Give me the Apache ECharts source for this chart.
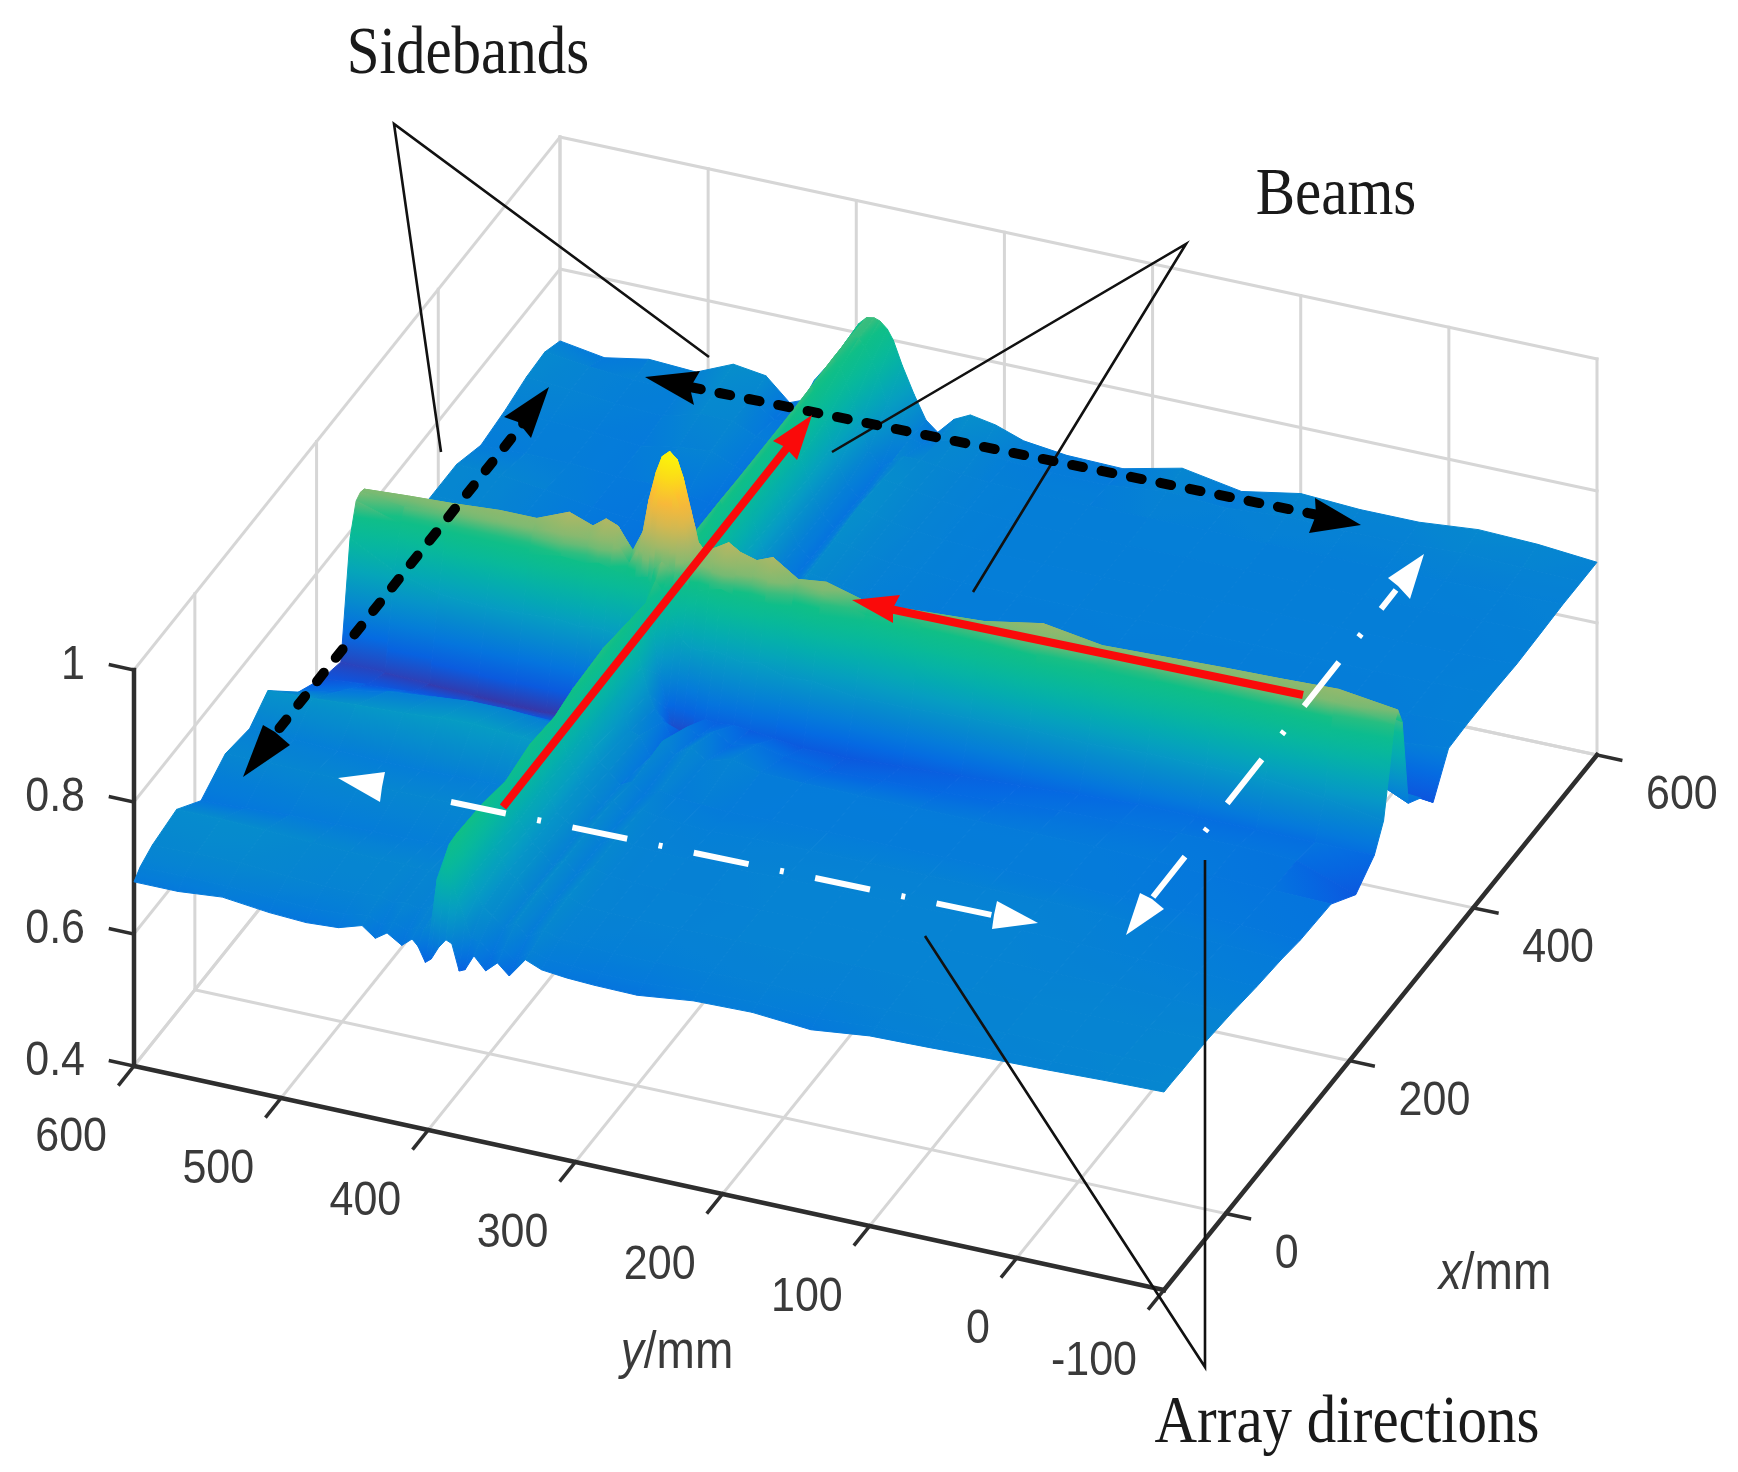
<!DOCTYPE html>
<html>
<head>
<meta charset="utf-8">
<title>Array beams</title>
<style>
  html, body { margin: 0; background: #fff; }
  #main { width: 1738px; height: 1472px; }
</style>
<script src="https://cdn.jsdelivr.net/npm/echarts@6/dist/echarts.min.js"></script>
</head>
<body>
<div id="main"></div>
<script>
// values
const xGrid = [-100,-90,-70,-30,10,50,90,120,170,210,240,255,265,272,278,285,295,315,335,360,390,430,470,510,545,575,600];
const yGrid = [-100,-60,-20,20,60,100,140,180,220,258,287,306,323,334,345,353,361,369,375,379,384,388,393,398,402,407,411,418,428,436,445,461,483,508,540,570,600];
// one row per xGrid value, one column per yGrid value
const surfaceZ = [
  [.700,.698,.695,.693,.690,.688,.678,.685,.683,.673,.674,.676,.680,.690,.660,.676,.660,.679,.655,.651,.690,.694,.680,.660,.653,.675,.684,.671,.685,.673,.688,.677,.674,.677,.685,.679,.679],
  [.700,.698,.696,.694,.692,.690,.684,.688,.686,.680,.680,.682,.684,.692,.672,.686,.672,.690,.690,.716,.745,.770,.795,.770,.700,.690,.692,.682,.690,.682,.692,.686,.684,.686,.690,.690,.690],
  [.699,.698,.697,.696,.695,.693,.690,.692,.690,.688,.688,.690,.692,.700,.684,.702,.690,.705,.715,.730,.755,.785,.818,.800,.720,.695,.697,.692,.696,.692,.698,.695,.695,.698,.702,.702,.700],
  [.698,.697,.697,.696,.696,.695,.694,.695,.694,.693,.693,.694,.696,.705,.688,.708,.692,.715,.722,.740,.755,.780,.815,.790,.715,.697,.698,.697,.699,.698,.700,.700,.700,.702,.706,.708,.708],
  [.693,.693,.694,.694,.695,.695,.695,.695,.694,.692,.692,.693,.695,.702,.688,.706,.692,.712,.720,.735,.750,.775,.805,.780,.710,.692,.690,.688,.688,.687,.687,.686,.685,.684,.682,.678,.675],
  [.686,.688,.690,.692,.694,.695,.695,.695,.695,.693,.692,.693,.695,.702,.688,.706,.694,.712,.720,.738,.755,.785,.815,.790,.715,.698,.698,.698,.699,.699,.700,.700,.700,.700,.700,.700,.700],
  [.681,.684,.687,.690,.692,.692,.692,.692,.691,.690,.688,.690,.692,.698,.684,.702,.690,.708,.718,.735,.752,.780,.810,.785,.712,.695,.693,.690,.690,.688,.688,.687,.686,.686,.688,.690,.692],
  [.675,.678,.680,.682,.683,.684,.684,.684,.684,.683,.682,.684,.686,.692,.680,.696,.688,.704,.716,.735,.755,.785,.818,.795,.735,.725,.725,.725,.728,.728,.730,.732,.730,.725,.722,.718,.715],
  [.672,.674,.676,.680,.682,.682,.682,.682,.682,.682,.684,.695,.685,.700,.682,.700,.672,.700,.705,.725,.755,.795,.822,.800,.720,.690,.690,.690,.692,.692,.695,.697,.697,.692,.685,.672,.655],
  [.640,.672,.675,.675,.672,.670,.665,.660,.658,.655,.662,.672,.662,.678,.665,.675,.642,.675,.692,.712,.750,.790,.815,.790,.690,.655,.645,.645,.642,.642,.640,.640,.640,.640,.638,.635,.630],
  [.665,.665,.665,.665,.665,.660,.655,.650,.645,.640,.640,.645,.650,.652,.650,.652,.640,.625,.625,.655,.705,.760,.810,.770,.660,.625,.615,.612,.612,.612,.612,.610,.610,.612,.615,.618,.620],
  [.700,.715,.725,.725,.725,.720,.722,.720,.715,.715,.725,.722,.735,.730,.735,.738,.735,.735,.745,.760,.790,.810,.825,.800,.745,.735,.732,.730,.735,.735,.732,.735,.732,.730,.735,.755,.790],
  [.770,.800,.805,.800,.800,.800,.805,.795,.790,.785,.805,.800,.815,.810,.815,.820,.815,.810,.812,.820,.830,.835,.842,.830,.815,.812,.810,.810,.815,.820,.815,.818,.810,.808,.810,.815,.835],
  [.825,.842,.838,.836,.832,.830,.843,.828,.822,.818,.838,.832,.855,.845,.852,.862,.852,.842,.850,.885,.920,.945,.955,.945,.920,.885,.850,.820,.852,.860,.845,.857,.838,.838,.835,.832,.840],
  [.841,.853,.850,.848,.845,.842,.856,.840,.835,.830,.848,.843,.868,.858,.865,.876,.865,.855,.870,.915,.960,.985,.995,.985,.960,.915,.865,.832,.865,.872,.857,.870,.850,.850,.845,.842,.838],
  [.815,.835,.832,.830,.826,.822,.838,.822,.815,.812,.830,.825,.850,.840,.848,.858,.848,.838,.842,.880,.915,.940,.950,.940,.915,.880,.845,.815,.845,.855,.840,.852,.832,.832,.828,.825,.827],
  [.680,.720,.745,.750,.750,.745,.750,.750,.750,.750,.760,.760,.770,.770,.775,.775,.775,.775,.785,.800,.825,.845,.855,.840,.810,.785,.770,.765,.770,.770,.770,.770,.770,.775,.780,.790,.800],
  [.665,.672,.680,.685,.685,.680,.685,.680,.680,.680,.690,.690,.695,.695,.700,.700,.700,.705,.730,.760,.795,.815,.825,.800,.760,.720,.700,.695,.695,.695,.695,.695,.695,.700,.710,.730,.750],
  [.635,.645,.655,.660,.660,.660,.665,.660,.660,.660,.665,.665,.670,.670,.675,.675,.675,.690,.725,.755,.790,.815,.825,.795,.740,.690,.670,.665,.665,.660,.660,.660,.660,.665,.680,.695,.710],
  [.688,.680,.675,.675,.675,.675,.680,.675,.675,.675,.680,.682,.685,.690,.695,.682,.674,.695,.720,.745,.775,.800,.825,.795,.730,.685,.670,.665,.665,.665,.665,.665,.668,.672,.685,.698,.700],
  [.690,.686,.684,.684,.684,.684,.685,.684,.684,.684,.688,.690,.695,.700,.705,.686,.674,.692,.718,.742,.772,.798,.824,.792,.728,.685,.672,.668,.668,.668,.668,.668,.672,.678,.690,.698,.700],
  [.690,.687,.686,.686,.686,.686,.687,.686,.686,.686,.690,.692,.698,.704,.708,.686,.672,.690,.715,.740,.770,.797,.824,.792,.728,.685,.672,.668,.668,.668,.670,.672,.675,.680,.690,.698,.700],
  [.688,.686,.686,.686,.686,.686,.687,.686,.686,.686,.690,.694,.700,.706,.712,.688,.672,.690,.712,.738,.770,.797,.824,.795,.730,.688,.672,.668,.668,.668,.670,.675,.680,.680,.685,.685,.683],
  [.690,.688,.687,.687,.687,.687,.688,.687,.687,.687,.690,.694,.700,.705,.708,.688,.672,.690,.715,.742,.775,.800,.826,.798,.735,.692,.675,.670,.670,.672,.680,.695,.690,.680,.685,.688,.690],
  [.692,.690,.689,.688,.688,.688,.689,.688,.688,.688,.690,.694,.698,.702,.702,.690,.678,.700,.735,.765,.795,.815,.828,.805,.760,.720,.700,.685,.680,.680,.685,.700,.700,.685,.688,.695,.700],
  [.692,.694,.696,.692,.692,.694,.688,.694,.684,.684,.688,.696,.702,.696,.685,.692,.705,.735,.775,.795,.815,.825,.828,.812,.785,.755,.735,.715,.695,.675,.675,.700,.705,.688,.690,.695,.703],
  [.692,.700,.703,.695,.695,.700,.684,.700,.680,.682,.690,.705,.712,.700,.675,.690,.725,.765,.800,.815,.825,.828,.826,.815,.800,.775,.760,.745,.715,.680,.672,.705,.712,.688,.692,.680,.691]
];
const xTicks = [0, 200, 400, 600];
const yTicks = [-100, 0, 100, 200, 300, 400, 500, 600];
const zTicks = [0.4, 0.6, 0.8, 1];
const xLabels = ['0', '200', '400', '600'];
const yLabels = ['-100', '0', '100', '200', '300', '400', '500', '600'];
const zLabels = ['0.4', '0.6', '0.8', '1'];

// colour ramp, z value -> colour
const rampZ = [.60, .615, .635, .66, .68, .70, .73, .76, .79, .82, .84, .87, .90, .93, .96, .985, 1];
const rampColor = ['#45278f', '#2f3fb5', '#0d55dd', '#056ae2', '#057adb', '#0686d0', '#069bc4', '#04acb0', '#08b99a', '#10bf85', '#7dba72', '#aeb764', '#dfb84a', '#fdb935', '#fbdc18', '#fbf00c', '#f8f50c'];

// where the floor corners of the box land on the page
const X0 = -100, X1 = 600, Y0 = -100, Y1 = 600, Z0 = 0.4, Z1 = 1;
const cornerA = [1164, 1290]; // x min, y min
const cornerB = [1597, 755];  // x max, y min
const cornerC = [134, 1066];  // x min, y max
const cornerD = [560, 533];   // x max, y max
const zScale = 660;

function project(x, y, z) {
  const s = (x - X0) / (X1 - X0), t = (y - Y0) / (Y1 - Y0);
  const px = (1 - s) * (1 - t) * cornerA[0] + s * (1 - t) * cornerB[0] + (1 - s) * t * cornerC[0] + s * t * cornerD[0];
  const py = (1 - s) * (1 - t) * cornerA[1] + s * (1 - t) * cornerB[1] + (1 - s) * t * cornerC[1] + s * t * cornerD[1];
  return [px, py - (z - Z0) * zScale];
}

function hex(c) {
  return [parseInt(c.slice(1, 3), 16), parseInt(c.slice(3, 5), 16), parseInt(c.slice(5, 7), 16)];
}
const rampRgb = rampColor.map(hex);
function colorOf(z) {
  if (z <= rampZ[0]) return rampColor[0];
  for (let k = 1; k < rampZ.length; k++) {
    if (z <= rampZ[k]) {
      const f = (z - rampZ[k - 1]) / (rampZ[k] - rampZ[k - 1]);
      const a = rampRgb[k - 1], b = rampRgb[k];
      return 'rgb(' + [0, 1, 2].map(n => Math.round(a[n] + (b[n] - a[n]) * f)).join(',') + ')';
    }
  }
  return rampColor[rampColor.length - 1];
}

// quads back to front, so nearer ones paint over farther ones
const quads = [];
for (let i = xGrid.length - 2; i >= 0; i--) {
  for (let j = yGrid.length - 2; j >= 0; j--) {
    quads.push([i, j]);
  }
}

function renderQuad(params, api) {
  const i = api.value(0), j = api.value(1);
  const idx = [[i, j], [i + 1, j], [i + 1, j + 1], [i, j + 1]];
  const zs = idx.map(p => surfaceZ[p[0]][p[1]]);
  const pts = idx.map((p, k) => api.coord(project(xGrid[p[0]], yGrid[p[1]], zs[k])));
  // fit z = a*px + b*py + c to get the direction the colour changes in
  let mx = 0, my = 0, mz = 0;
  pts.forEach((p, k) => { mx += p[0] / 4; my += p[1] / 4; mz += zs[k] / 4; });
  let sxx = 0, sxy = 0, syy = 0, sxz = 0, syz = 0;
  pts.forEach((p, k) => {
    const dx = p[0] - mx, dy = p[1] - my, dz = zs[k] - mz;
    sxx += dx * dx; sxy += dx * dy; syy += dy * dy; sxz += dx * dz; syz += dy * dz;
  });
  const det = sxx * syy - sxy * sxy;
  let fill;
  const zMin = Math.min.apply(null, zs), zMax = Math.max.apply(null, zs);
  const a = det > 1e-6 ? (syy * sxz - sxy * syz) / det : 0;
  const b = det > 1e-6 ? (sxx * syz - sxy * sxz) / det : 0;
  const len = Math.sqrt(a * a + b * b);
  if (len < 1e-9 || zMax - zMin < 0.002) {
    fill = colorOf(mz);
  } else {
    const ux = a / len, uy = b / len;
    const proj = pts.map(p => (p[0] - mx) * ux + (p[1] - my) * uy);
    const lo = Math.min.apply(null, proj), hi = Math.max.apply(null, proj);
    const stops = [0, 0.25, 0.5, 0.75, 1].map(t => ({ offset: t, color: colorOf(zMin + (zMax - zMin) * t) }));
    fill = new echarts.graphic.LinearGradient(mx + ux * lo, my + uy * lo, mx + ux * hi, my + uy * hi, stops, true);
  }
  return {
    type: 'polygon',
    shape: { points: pts },
    style: { fill: fill, stroke: fill, lineWidth: 1 },
    silent: true
  };
}

// box: walls, floor, axes and ticks as 3D segments
const gridLine = { stroke: '#d6d6d6', lineWidth: 3 };
const axisLine = { stroke: '#2e2e2e', lineWidth: 4.5 };
const tickLine = { stroke: '#2e2e2e', lineWidth: 3.5 };
const segments = [];
function seg(a, b, style) { segments.push({ a: a, b: b, style: style }); }
xTicks.forEach(x => {
  seg([x, Y0, Z0], [x, Y1, Z0], gridLine);
  seg([x, Y1, Z0], [x, Y1, Z1], gridLine);
});
yTicks.forEach(y => {
  seg([X0, y, Z0], [X1, y, Z0], gridLine);
  seg([X1, y, Z0], [X1, y, Z1], gridLine);
});
zTicks.forEach(z => {
  seg([X0, Y1, z], [X1, Y1, z], gridLine);
  seg([X1, Y1, z], [X1, Y0, z], gridLine);
});
seg([X0, Y1, Z0], [X0, Y1, Z1], axisLine);
seg([X0, Y1, Z0], [X0, Y0, Z0], axisLine);
seg([X0, Y0, Z0], [X1, Y0, Z0], axisLine);
zTicks.forEach(z => seg([X0, Y1, z], [X0, Y1 + 16, z], tickLine));
yTicks.forEach(y => seg([X0, y, Z0], [X0 - 24, y, Z0], tickLine));
xTicks.forEach(x => seg([x, Y0, Z0], [x, Y0 - 16, Z0], tickLine));

function renderSegment(params, api) {
  const s = segments[params.dataIndex];
  const p = api.coord(project(s.a[0], s.a[1], s.a[2]));
  const q = api.coord(project(s.b[0], s.b[1], s.b[2]));
  return {
    type: 'line',
    shape: { x1: p[0], y1: p[1], x2: q[0], y2: q[1] },
    style: Object.assign({ lineCap: 'square' }, s.style),
    silent: true
  };
}

// tick labels hang off the projected tick position
const tickFont = '43px "Liberation Sans", Arial, sans-serif';
const labelItems = [];
xTicks.forEach((v, k) => labelItems.push({ at: [v, Y0, Z0], dx: 49, dy: 41, align: 'left', text: xLabels[k] }));
yTicks.forEach((v, k) => labelItems.push({ at: [X0, v, Z0], dx: -27, dy: 72, align: 'right', text: yLabels[k] }));
zTicks.forEach((v, k) => labelItems.push({ at: [X0, Y1, v], dx: -49, dy: -4, align: 'right', text: zLabels[k] }));

function renderLabel(params, api) {
  const l = labelItems[params.dataIndex];
  const p = api.coord(project(l.at[0], l.at[1], l.at[2]));
  return {
    type: 'text',
    x: p[0] + l.dx,
    y: p[1] + l.dy,
    scaleY: 1.12,
    style: { text: l.text, x: 0, y: 0, align: l.align, verticalAlign: 'middle', font: tickFont, fill: '#3a3a3a' },
    silent: true
  };
}

// annotations drawn over the plot, in page pixels
const serif = '59px "Liberation Serif", "Times New Roman", serif';
function noteText(text, x, y) {
  return { type: 'text', x: x, y: y, scaleY: 1.14, style: { text: text, x: 0, y: 0, align: 'center', verticalAlign: 'middle', font: serif, fill: '#1a1a1a' }, z: 20 };
}
function path(points, style) {
  return { type: 'polyline', shape: { points: points }, style: Object.assign({ fill: null }, style), z: 20 };
}
function head(points, color) {
  return { type: 'polygon', shape: { points: points }, style: { fill: color }, z: 21 };
}
const leader = { stroke: '#111', lineWidth: 2.6 };
const blackDots = { stroke: '#000', lineWidth: 10, lineDash: [11, 19], lineCap: 'round' };
const whiteDash = { stroke: '#fff', lineWidth: 6, lineDash: [56, 32, 4, 32], lineCap: 'butt' };
const redBar = { stroke: '#fa0a0a', lineWidth: 8 };

const annotations = [
  noteText('Sidebands', 468, 55),
  noteText('Beams', 1336, 196),
  noteText('Array directions', 1347, 1424),
  path([[709, 357], [394, 124], [441, 452]], leader),
  path([[832, 452], [1186, 244], [973, 592]], leader),
  path([[925, 936], [1205, 1367], [1205, 860]], leader),
  // red beam arrows
  path([[503, 807], [790, 444]], redBar),
  head([[812, 415], [773, 441], [785, 447], [797, 460]], '#fa0a0a'),
  path([[1303, 695], [885, 608]], redBar),
  head([[852, 600], [900, 595], [893, 608], [893, 623]], '#fa0a0a'),
  // black sideband arrows
  path([[530, 415], [262, 750]], blackDots),
  head([[549, 387], [504, 417], [518, 422], [531, 438]], '#000'),
  head([[243, 777], [263, 725], [275, 732], [290, 745]], '#000'),
  path([[690, 387], [1318, 515]], blackDots),
  head([[645, 377], [700, 371], [690, 388], [694, 405]], '#000'),
  head([[1361, 525], [1315, 498], [1316, 515], [1309, 533]], '#000'),
  // white array direction arrows
  path([[451, 802], [992, 915]], whiteDash),
  head([[338, 778], [385, 772], [382, 787], [380, 802]], '#fff'),
  head([[1038, 923], [997, 901], [994, 915], [992, 929]], '#fff'),
  path([[1396, 590], [1153, 897]], Object.assign({ lineDashOffset: 32 }, whiteDash)),
  head([[1424, 554], [1388, 578], [1398, 586], [1410, 599]], '#fff'),
  head([[1126, 935], [1140, 893], [1152, 899], [1164, 909]], '#fff'),
  // axis names
  {
    type: 'text', x: 677, y: 1354, z: 20, scaleY: 1.12,
    style: { text: '{i|y}/mm', align: 'center', verticalAlign: 'middle', font: '46px "Liberation Sans", Arial, sans-serif', fill: '#3a3a3a',
      rich: { i: { fontStyle: 'italic', fontSize: 46, fontFamily: 'Liberation Sans', fill: '#3a3a3a' } } }
  },
  {
    type: 'text', x: 1495, y: 1275, z: 20, scaleY: 1.12,
    style: { text: '{i|x}/mm', align: 'center', verticalAlign: 'middle', font: '46px "Liberation Sans", Arial, sans-serif', fill: '#3a3a3a',
      rich: { i: { fontStyle: 'italic', fontSize: 46, fontFamily: 'Liberation Sans', fill: '#3a3a3a' } } }
  }
];

const chart = echarts.init(document.getElementById('main'));
chart.setOption({
  animation: false,
  backgroundColor: '#fff',
  grid: { left: 0, right: 0, top: 0, bottom: 0 },
  xAxis: { type: 'value', min: 0, max: 1738, show: false },
  yAxis: { type: 'value', min: 0, max: 1472, inverse: true, show: false },
  graphic: { elements: annotations },
  series: [
    { type: 'custom', coordinateSystem: 'cartesian2d', clip: false, silent: true, z: 1, progressive: 0, renderItem: renderSegment, data: segments.map((s, k) => [k, 0]) },
    { type: 'custom', coordinateSystem: 'cartesian2d', clip: false, silent: true, z: 2, progressive: 0, renderItem: renderQuad, data: quads },
    { type: 'custom', coordinateSystem: 'cartesian2d', clip: false, silent: true, z: 3, progressive: 0, renderItem: renderLabel, data: labelItems.map((l, k) => [k, 0]) }
  ]
});
</script>
</body>
</html>
